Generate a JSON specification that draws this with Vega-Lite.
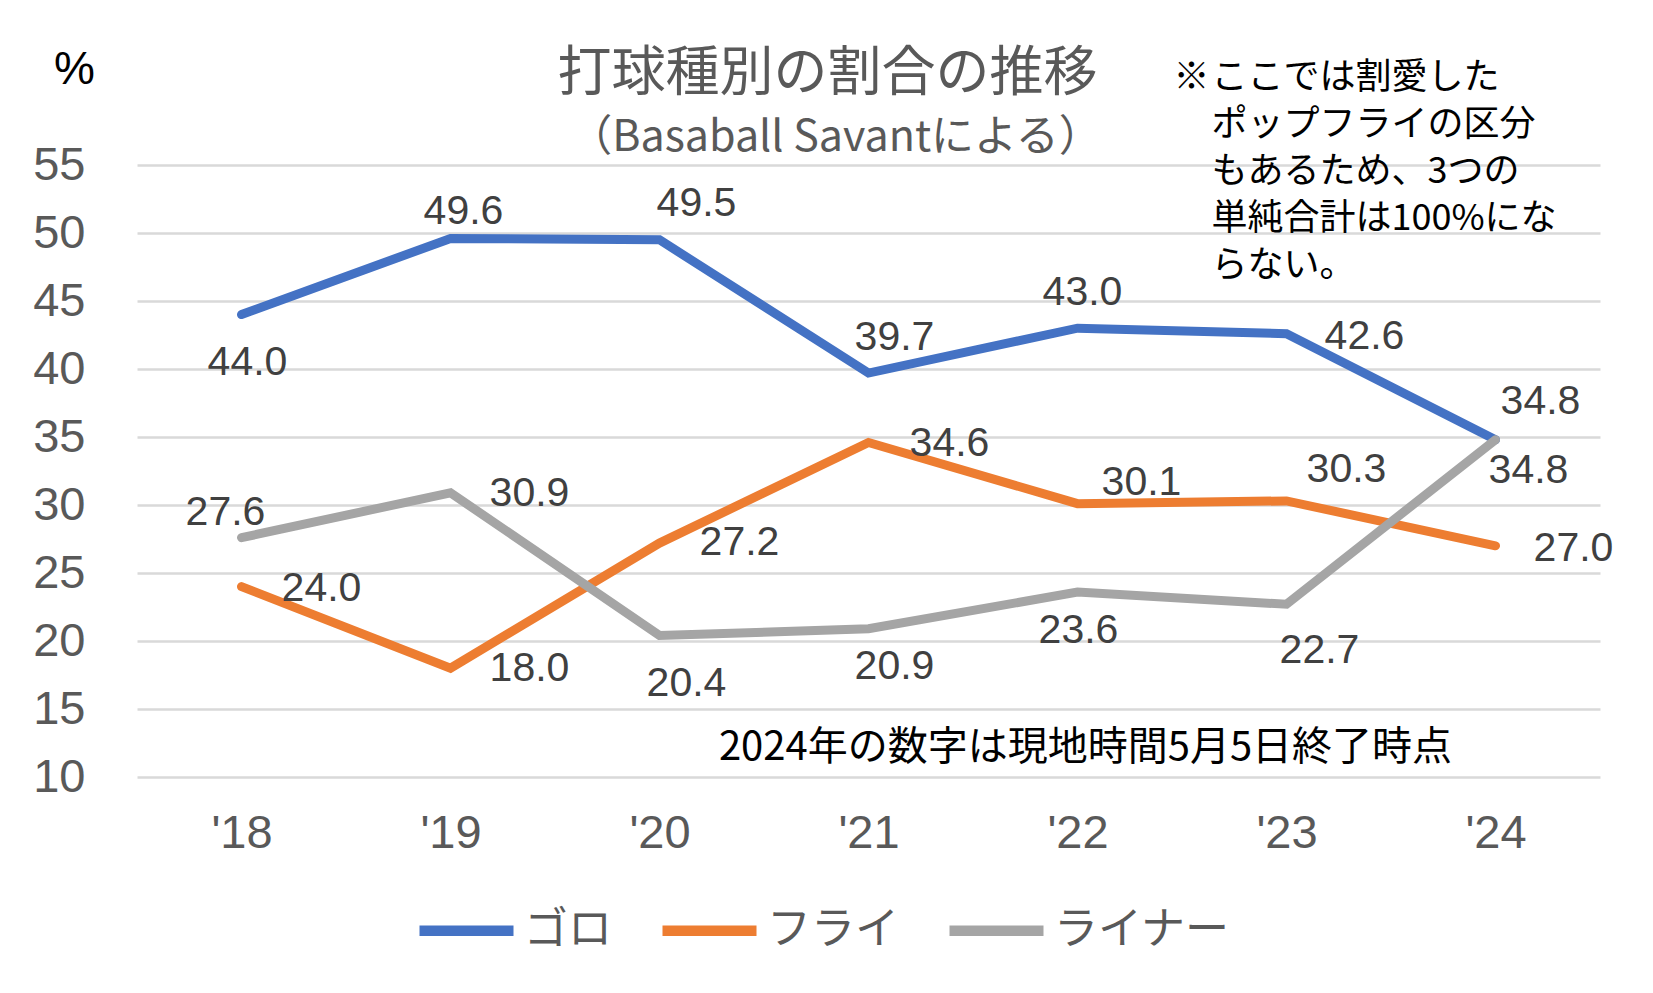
{
  "$schema": "https://vega.github.io/schema/vega-lite/v6.json",
  "width": 1463,
  "height": 612,
  "autosize": {"type": "none"},
  "padding": {"left": 137, "top": 165, "right": 53, "bottom": 216},
  "background": "white",
  "config": {
    "view": {"stroke": null},
    "text": {"font": "Liberation Sans", "fontSize": 41, "fill": "#404040", "align": "center", "baseline": "middle"}
  },
  "data": {
    "values": [
      {"s": "ゴロ", "yr": "'18", "n": 18, "v": 44.0},
      {"s": "ゴロ", "yr": "'19", "n": 19, "v": 49.6},
      {"s": "ゴロ", "yr": "'20", "n": 20, "v": 49.5},
      {"s": "ゴロ", "yr": "'21", "n": 21, "v": 39.7},
      {"s": "ゴロ", "yr": "'22", "n": 22, "v": 43.0},
      {"s": "ゴロ", "yr": "'23", "n": 23, "v": 42.6},
      {"s": "ゴロ", "yr": "'24", "n": 24, "v": 34.8},
      {"s": "フライ", "yr": "'18", "n": 18, "v": 24.0},
      {"s": "フライ", "yr": "'19", "n": 19, "v": 18.0},
      {"s": "フライ", "yr": "'20", "n": 20, "v": 27.2},
      {"s": "フライ", "yr": "'21", "n": 21, "v": 34.6},
      {"s": "フライ", "yr": "'22", "n": 22, "v": 30.1},
      {"s": "フライ", "yr": "'23", "n": 23, "v": 30.3},
      {"s": "フライ", "yr": "'24", "n": 24, "v": 27.0},
      {"s": "ライナー", "yr": "'18", "n": 18, "v": 27.6},
      {"s": "ライナー", "yr": "'19", "n": 19, "v": 30.9},
      {"s": "ライナー", "yr": "'20", "n": 20, "v": 20.4},
      {"s": "ライナー", "yr": "'21", "n": 21, "v": 20.9},
      {"s": "ライナー", "yr": "'22", "n": 22, "v": 23.6},
      {"s": "ライナー", "yr": "'23", "n": 23, "v": 22.7},
      {"s": "ライナー", "yr": "'24", "n": 24, "v": 34.8}
    ]
  },
  "encoding": {
    "x": {
      "field": "yr", "type": "ordinal", "sort": ["'18", "'19", "'20", "'21", "'22", "'23", "'24"],
      "scale": {"type": "point", "padding": 0.5},
      "axis": {"title": null, "labelAngle": 0, "ticks": false, "domain": false, "labelPadding": 33,
               "labelFont": "Liberation Sans", "labelFontSize": 47, "labelColor": "#595959", "grid": false}
    },
    "y": {
      "field": "v", "type": "quantitative",
      "scale": {"domain": [10, 55], "nice": false, "zero": false},
      "axis": {"values": [10, 15, 20, 25, 30, 35, 40, 45, 50, 55], "ticks": false, "domain": false,
               "labelPadding": 52, "labelFont": "Liberation Sans", "labelFontSize": 47, "labelColor": "#595959",
               "grid": true, "gridColor": "#D9D9D9", "gridWidth": 2.5,
               "title": "%", "titleAngle": 0, "titleX": -63, "titleY": -96, "titleAlign": "center", "titleBaseline": "middle",
               "titleFont": "Liberation Sans", "titleFontSize": 46, "titleFontWeight": "normal", "titleColor": "#000000"}
    }
  },
  "layer": [
    {
      "mark": {"type": "line", "strokeWidth": 9, "strokeCap": "round"},
      "encoding": {
        "color": {
          "field": "s", "type": "nominal",
          "scale": {"domain": ["ゴロ", "フライ", "ライナー"], "range": ["#4472C4", "#ED7D31", "#A5A5A5"]},
          "legend": {"title": null, "orient": "none", "direction": "horizontal", "legendX": 277, "legendY": 713,
                     "symbolType": "stroke", "symbolSize": 8836, "symbolStrokeWidth": 10.5,
                     "labelFont": "Noto Sans CJK JP", "labelFontSize": 44, "labelColor": "#595959", "labelLimit": 0,
                     "labelOffset": 5, "columnPadding": 29}
        }
      }
    },
    {"transform": [{"filter": "datum.s=='ゴロ'&&datum.n==18"}], "mark": {"type": "text", "dx": 6, "dy": 48}, "encoding": {"text": {"field": "v", "format": ".1f"}}},
    {"transform": [{"filter": "datum.s=='ゴロ'&&datum.n==19"}], "mark": {"type": "text", "dx": 13, "dy": -26}, "encoding": {"text": {"field": "v", "format": ".1f"}}},
    {"transform": [{"filter": "datum.s=='ゴロ'&&datum.n==20"}], "mark": {"type": "text", "dx": 37, "dy": -36}, "encoding": {"text": {"field": "v", "format": ".1f"}}},
    {"transform": [{"filter": "datum.s=='ゴロ'&&datum.n==21"}], "mark": {"type": "text", "dx": 26, "dy": -35}, "encoding": {"text": {"field": "v", "format": ".1f"}}},
    {"transform": [{"filter": "datum.s=='ゴロ'&&datum.n==22"}], "mark": {"type": "text", "dx": 5, "dy": -35}, "encoding": {"text": {"field": "v", "format": ".1f"}}},
    {"transform": [{"filter": "datum.s=='ゴロ'&&datum.n==23"}], "mark": {"type": "text", "dx": 78, "dy": 3}, "encoding": {"text": {"field": "v", "format": ".1f"}}},
    {"transform": [{"filter": "datum.s=='ゴロ'&&datum.n==24"}], "mark": {"type": "text", "dx": 45, "dy": -38}, "encoding": {"text": {"field": "v", "format": ".1f"}}},
    {"transform": [{"filter": "datum.s=='フライ'&&datum.n==18"}], "mark": {"type": "text", "dx": 80, "dy": 2}, "encoding": {"text": {"field": "v", "format": ".1f"}}},
    {"transform": [{"filter": "datum.s=='フライ'&&datum.n==19"}], "mark": {"type": "text", "dx": 79, "dy": 1}, "encoding": {"text": {"field": "v", "format": ".1f"}}},
    {"transform": [{"filter": "datum.s=='フライ'&&datum.n==20"}], "mark": {"type": "text", "dx": 80, "dy": 0}, "encoding": {"text": {"field": "v", "format": ".1f"}}},
    {"transform": [{"filter": "datum.s=='フライ'&&datum.n==21"}], "mark": {"type": "text", "dx": 81, "dy": 2}, "encoding": {"text": {"field": "v", "format": ".1f"}}},
    {"transform": [{"filter": "datum.s=='フライ'&&datum.n==22"}], "mark": {"type": "text", "dx": 64, "dy": -21}, "encoding": {"text": {"field": "v", "format": ".1f"}}},
    {"transform": [{"filter": "datum.s=='フライ'&&datum.n==23"}], "mark": {"type": "text", "dx": 60, "dy": -31}, "encoding": {"text": {"field": "v", "format": ".1f"}}},
    {"transform": [{"filter": "datum.s=='フライ'&&datum.n==24"}], "mark": {"type": "text", "dx": 78, "dy": 3}, "encoding": {"text": {"field": "v", "format": ".1f"}}},
    {"transform": [{"filter": "datum.s=='ライナー'&&datum.n==18"}], "mark": {"type": "text", "dx": -16, "dy": -25}, "encoding": {"text": {"field": "v", "format": ".1f"}}},
    {"transform": [{"filter": "datum.s=='ライナー'&&datum.n==19"}], "mark": {"type": "text", "dx": 79, "dy": 1}, "encoding": {"text": {"field": "v", "format": ".1f"}}},
    {"transform": [{"filter": "datum.s=='ライナー'&&datum.n==20"}], "mark": {"type": "text", "dx": 27, "dy": 48}, "encoding": {"text": {"field": "v", "format": ".1f"}}},
    {"transform": [{"filter": "datum.s=='ライナー'&&datum.n==21"}], "mark": {"type": "text", "dx": 26, "dy": 38}, "encoding": {"text": {"field": "v", "format": ".1f"}}},
    {"transform": [{"filter": "datum.s=='ライナー'&&datum.n==22"}], "mark": {"type": "text", "dx": 1, "dy": 39}, "encoding": {"text": {"field": "v", "format": ".1f"}}},
    {"transform": [{"filter": "datum.s=='ライナー'&&datum.n==23"}], "mark": {"type": "text", "dx": 33, "dy": 47}, "encoding": {"text": {"field": "v", "format": ".1f"}}},
    {"transform": [{"filter": "datum.s=='ライナー'&&datum.n==24"}], "mark": {"type": "text", "dx": 33, "dy": 31}, "encoding": {"text": {"field": "v", "format": ".1f"}}},
    {
      "data": {"values": [{"yr": "'21", "v": 61.6, "t": "打球種別の割合の推移"}]},
      "mark": {"type": "text", "align": "center", "baseline": "middle", "dx": -41,
               "font": "Noto Sans CJK JP", "fontSize": 54, "fill": "#595959"},
      "encoding": {"text": {"field": "t"}}
    },
    {
      "data": {"values": [{"yr": "'21", "v": 57.0, "t": "（Basaball Savantによる）"}]},
      "mark": {"type": "text", "align": "center", "baseline": "middle", "dx": -33,
               "font": "Noto Sans CJK JP", "fontSize": 43, "fill": "#595959"},
      "encoding": {"text": {"field": "t"}}
    },
    {
      "data": {"values": [{"yr": "'23", "v": 60.6, "t": "※"}]},
      "mark": {"type": "text", "align": "left", "baseline": "alphabetic", "dx": -113,
               "font": "Noto Sans CJK JP", "fontSize": 36, "fill": "#000000"},
      "encoding": {"text": {"field": "t"}}
    },
    {
      "data": {"values": [{"yr": "'23", "v": 60.6, "t": "ここでは割愛した\nポップフライの区分\nもあるため、3つの\n単純合計は100%にな\nらない。"}]},
      "mark": {"type": "text", "align": "left", "baseline": "alphabetic", "dx": -75, "lineBreak": "\n", "lineHeight": 47,
               "font": "Noto Sans CJK JP", "fontSize": 36, "fill": "#000000"},
      "encoding": {"text": {"field": "t"}}
    },
    {
      "data": {"values": [{"yr": "'22", "v": 12.13, "t": "2024年の数字は現地時間5月5日終了時点"}]},
      "mark": {"type": "text", "align": "center", "baseline": "middle", "dx": 8,
               "font": "Noto Sans CJK JP", "fontSize": 40, "fill": "#000000"},
      "encoding": {"text": {"field": "t"}}
    }
  ]
}
